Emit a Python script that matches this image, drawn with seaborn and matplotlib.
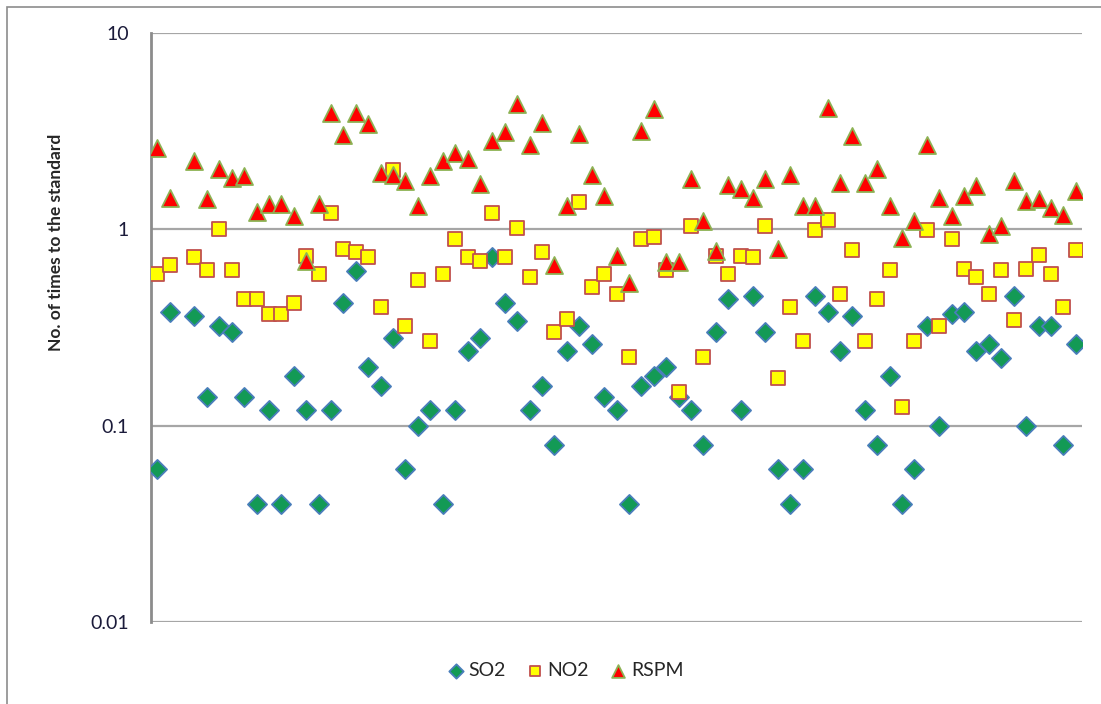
import numpy as np
import pandas as pd
import matplotlib
matplotlib.use("Agg")
import matplotlib.pyplot as plt
import seaborn as sns
from matplotlib.patches import Rectangle

# values (index 2 is blank in the source)
nan = np.nan
so2 = [0.06, 0.38, nan, 0.36, 0.14, 0.32, 0.30, 0.14, 0.04, 0.12,
       0.04, 0.18, 0.12, 0.04, 0.12, 0.42, 0.61, 0.20, 0.16, 0.28,
       0.06, 0.10, 0.12, 0.04, 0.12, 0.24, 0.28, 0.72, 0.42, 0.34,
       0.12, 0.16, 0.08, 0.24, 0.32, 0.26, 0.14, 0.12, 0.04, 0.16,
       0.18, 0.20, 0.14, 0.12, 0.08, 0.30, 0.44, 0.12, 0.46, 0.30,
       0.06, 0.04, 0.06, 0.46, 0.38, 0.24, 0.36, 0.12, 0.08, 0.18,
       0.04, 0.06, 0.32, 0.10, 0.37, 0.38, 0.24, 0.26, 0.22, 0.46,
       0.10, 0.32, 0.32, 0.08, 0.26]
no2 = [0.59, 0.66, nan, 0.72, 0.62, 1.00, 0.62, 0.44, 0.44, 0.37,
       0.37, 0.42, 0.73, 0.59, 1.21, 0.79, 0.77, 0.72, 0.40, 2.00,
       0.32, 0.55, 0.27, 0.59, 0.89, 0.72, 0.69, 1.21, 0.72, 1.01,
       0.57, 0.77, 0.30, 0.35, 1.37, 0.51, 0.59, 0.47, 0.225, 0.89,
       0.91, 0.62, 0.149, 1.04, 0.225, 0.73, 0.59, 0.73, 0.72, 1.04,
       0.174, 0.40, 0.27, 0.99, 1.12, 0.47, 0.785, 0.27, 0.44, 0.62,
       0.124, 0.27, 0.99, 0.32, 0.89, 0.63, 0.57, 0.47, 0.62, 0.345,
       0.63, 0.74, 0.59, 0.40, 0.785]
rspm = [2.60, 1.45, nan, 2.23, 1.43, 2.02, 1.83, 1.87, 1.22, 1.34,
        1.34, 1.17, 0.69, 1.34, 3.93, 3.04, 3.93, 3.42, 1.94, 1.90,
        1.76, 1.32, 1.87, 2.23, 2.46, 2.27, 1.71, 2.82, 3.13, 4.33,
        2.68, 3.49, 0.66, 1.32, 3.07, 1.90, 1.48, 0.73, 0.53, 3.17,
        4.11, 0.68, 0.68, 1.80, 1.10, 0.78, 1.69, 1.60, 1.45, 1.80,
        0.79, 1.90, 1.32, 1.32, 4.16, 1.73, 2.98, 1.73, 2.04, 1.32,
        0.90, 1.10, 2.68, 1.45, 1.17, 1.48, 1.67, 0.95, 1.04, 1.76,
        1.39, 1.42, 1.29, 1.19, 1.57]
y_ticks = [0.01, 0.1, 1, 10]
y_tick_labels = ["0.01", "0.1", "1", "10"]

df = pd.DataFrame({"site": np.arange(len(so2)), "SO2": so2, "NO2": no2, "RSPM": rspm})

sns.set_style("white")
plt.rcParams['font.family'] = ['Lato', 'DejaVu Sans']

fig = plt.figure(figsize=(11.01, 7.04), dpi=100)
ax = fig.add_axes([151 / 1101, 1 - 622 / 704, 931 / 1101, 589 / 704])

# outer chart frame (right/bottom edges fall outside the picture)
fig.patches.append(Rectangle((7 / 1101, -0.05), 1.1, 1 - 7 / 704 + 0.05,
                             transform=fig.transFigure, fill=False,
                             edgecolor="#8c8c8c", linewidth=1.2))

styles = [
    ("SO2", "D", "#139a55", "#4a7ebb", 95),
    ("NO2", "s", "#ffff00", "#c0504d", 105),
    ("RSPM", "^", "#ff0000", "#8db254", 150),
]
for name, mk, fc, ec, sz in styles:
    sns.scatterplot(data=df, x="site", y=name, marker=mk, color=fc,
                    edgecolor=ec, linewidth=1.3, s=sz, label=name, ax=ax,
                    zorder=3)

ax.set_yscale("log")
ax.set_ylim(0.01, 10)
ax.set_xlim(-0.5, len(so2) - 0.5)
ax.set_yticks(y_ticks)
ax.set_yticklabels(y_tick_labels)
ax.minorticks_off()
ax.set_xticks([])
ax.set_xlabel("")
ax.set_ylabel("No. of times to the standard", fontsize=12.5, fontweight="bold")
ax.yaxis.set_label_coords(-0.093, 0.645)
ax.tick_params(axis="y", direction="out", length=8, width=1.5, color="#8c8c8c",
               labelsize=14, labelcolor="#1b1b3a", pad=8)
ax.grid(axis="y", color="#a6a6a6", linewidth=1.6)
ax.set_axisbelow(True)
for side in ["top", "right", "bottom"]:
    ax.spines[side].set_visible(False)
ax.spines["left"].set_color("#8c8c8c")
ax.spines["left"].set_linewidth(2)

ax.legend_.remove()
handles, labels = ax.get_legend_handles_labels()
fig.legend(handles, labels, loc="center", bbox_to_anchor=(0.513, 0.048), ncol=3,
           frameon=False, fontsize=14, handletextpad=0.15, handlelength=1.0,
           columnspacing=1.0, markerscale=0.75)

fig.savefig("out.png", dpi=100)
